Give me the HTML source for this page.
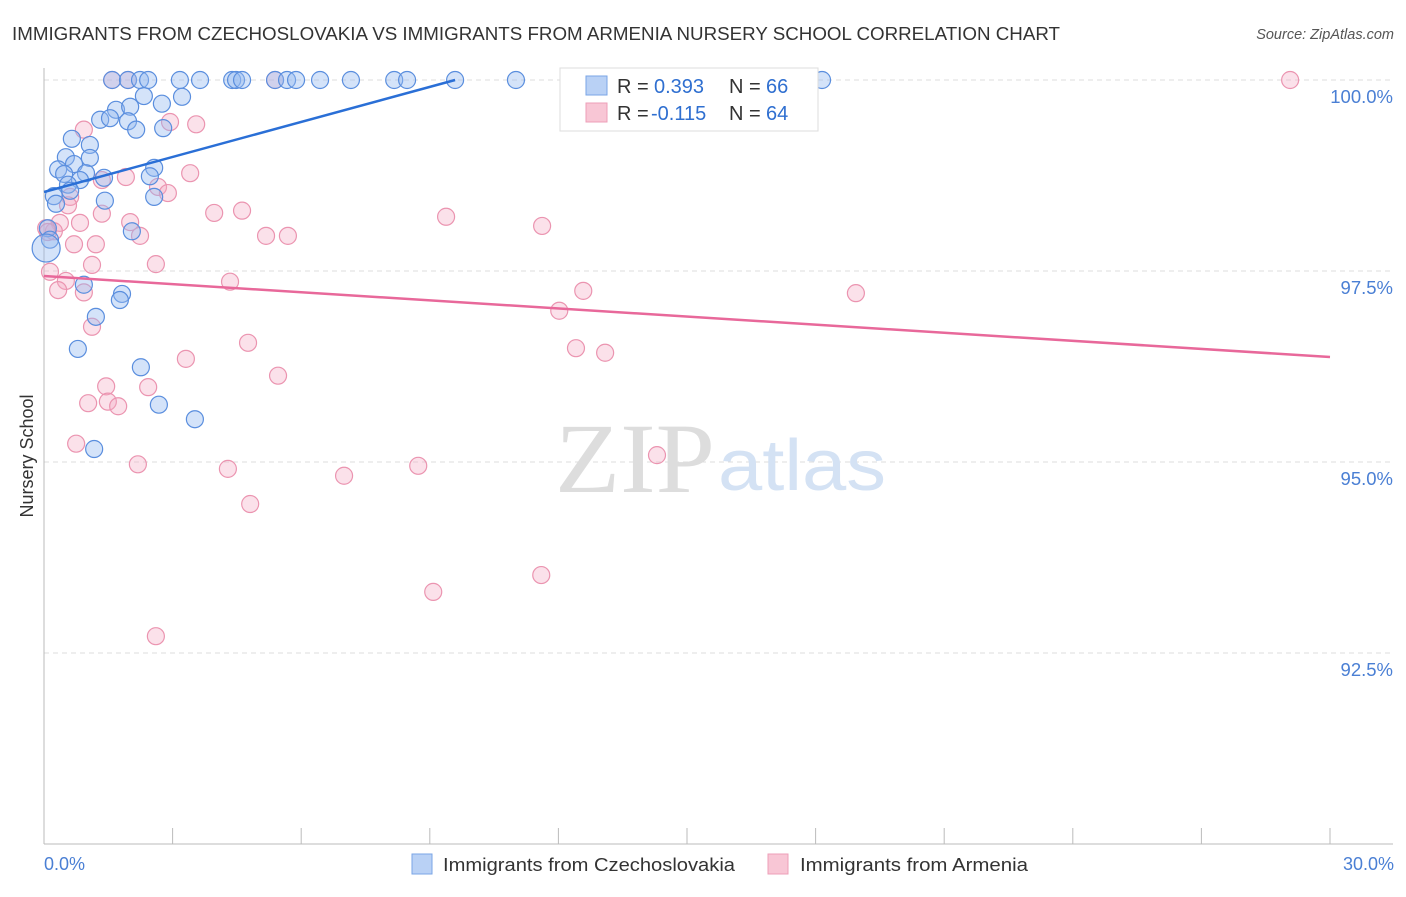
<!DOCTYPE html>
<html><head><meta charset="utf-8"><style>
body{margin:0;background:#fff;font-family:"Liberation Sans",sans-serif;}
</style></head><body>
<svg width="1406" height="892" xmlns="http://www.w3.org/2000/svg">
<text x="12" y="40" font-size="18" fill="#333" textLength="1048" lengthAdjust="spacingAndGlyphs">IMMIGRANTS FROM CZECHOSLOVAKIA VS IMMIGRANTS FROM ARMENIA NURSERY SCHOOL CORRELATION CHART</text>
<text x="1394" y="39" font-size="14.5" fill="#555" text-anchor="end" font-style="italic">Source: ZipAtlas.com</text>
<g id="grid"></g>
<text x="555" y="492" font-size="100" fill="#ddd" font-family="Liberation Serif,serif" textLength="160" lengthAdjust="spacingAndGlyphs">ZIP</text>
<text x="718" y="490" font-size="72" fill="#d4e2f4" textLength="168" lengthAdjust="spacingAndGlyphs">atlas</text>
<g id="pts"></g>
<g id="lines"></g>
<text x="33" y="456" font-size="18" fill="#333" text-anchor="middle" transform="rotate(-90 33 456)">Nursery School</text>
<text x="44" y="870" font-size="18" fill="#4a7fd4">0.0%</text>
<text x="1394" y="870" font-size="18" fill="#4a7fd4" text-anchor="end">30.0%</text>
<g>
<rect x="560" y="68" width="258" height="63" fill="#fff" stroke="#ddd"/>
<rect x="586" y="76" width="21" height="19" fill="#b9d1f5" stroke="#7aa5e6"/>
<rect x="586" y="103" width="21" height="19" fill="#f8c6d5" stroke="#ee9fb8"/>
<text x="617" y="93" font-size="20" fill="#333">R = <tspan x="654" fill="#2f6fd0">0.393</tspan><tspan x="729">N = </tspan><tspan x="766" fill="#2f6fd0">66</tspan></text>
<text x="617" y="120" font-size="20" fill="#333">R = <tspan x="651" fill="#2f6fd0">-0.115</tspan><tspan x="729">N = </tspan><tspan x="766" fill="#2f6fd0">64</tspan></text>
</g>
<g>
<rect x="412" y="854" width="20" height="20" fill="#b9d1f5" stroke="#7aa5e6"/>
<text x="443" y="871" font-size="18.5" fill="#333" textLength="292" lengthAdjust="spacingAndGlyphs">Immigrants from Czechoslovakia</text></g>
<g>
<rect x="768" y="854" width="20" height="20" fill="#f8c6d5" stroke="#ee9fb8"/>
<text x="800" y="871" font-size="18.5" fill="#333" textLength="228" lengthAdjust="spacingAndGlyphs">Immigrants from Armenia</text></g>
</svg>
<script>
const yTicks=[100,97.5,95,92.5];
const yTickLabels=["100.0%","97.5%","95.0%","92.5%"];
const blueX=[1.59,1.96,2.24,2.43,3.17,3.64,4.39,4.48,4.62,5.39,5.67,5.88,6.44,7.16,8.17,8.47,9.59,11.01,18.15,2.33,2.75,3.22,1.68,2.01,1.31,1.54,1.96,2.15,2.78,0.65,1.07,0.51,1.07,0.70,0.33,0.98,0.47,0.84,1.40,2.57,2.47,0.56,0.23,0.61,0.28,1.42,2.57,2.05,0.09,0.14,0.05,0.93,1.82,1.77,1.21,0.79,2.26,2.68,3.52,1.17];
const blueY=[100,100,100,100,100,100,100,100,100,100,100,100,100,100,100,100,100,100,100,99.79,99.69,99.78,99.61,99.65,99.48,99.50,99.46,99.35,99.37,99.23,99.15,98.99,98.98,98.90,98.83,98.78,98.77,98.69,98.72,98.85,98.74,98.63,98.48,98.55,98.38,98.42,98.47,98.02,98.06,97.91,97.80,97.32,97.20,97.12,96.90,96.48,96.24,95.75,95.56,95.17];
const pinkX=[1.59,1.96,5.39,29.07,3.55,2.94,0.93,3.41,1.91,2.66,2.89,1.35,0.61,0.56,3.97,4.62,9.38,11.62,1.35,2.01,0.84,0.37,0.23,2.24,5.18,5.69,0.70,1.21,1.12,2.61,0.14,0.51,4.34,0.33,0.93,12.58,18.94,12.02,1.12,4.76,12.41,13.09,3.31,5.46,1.45,2.43,1.03,1.49,1.73,0.75,2.19,4.29,8.73,14.30,7.00,4.81,11.60,9.08,2.61,0.05,0.09];
const pinkY=[100,100,100,100,99.42,99.45,99.35,98.78,98.73,98.60,98.52,98.69,98.47,98.36,98.26,98.29,98.21,98.09,98.25,98.14,98.13,98.13,98.02,97.96,97.96,97.96,97.85,97.85,97.58,97.59,97.49,97.37,97.36,97.25,97.22,97.24,97.21,96.98,96.77,96.56,96.49,96.43,96.35,96.13,95.99,95.98,95.77,95.79,95.73,95.24,94.97,94.91,94.95,95.09,94.82,94.45,93.52,93.30,92.72,98.06,98.01];
const blueTrend=[[0,98.534],[9.59,100]];
const pinkTrend=[[0,97.434],[30,96.374]];
const xTicks=[0,3,6,9,12,15,18,21,24,27,30];
const NS="http://www.w3.org/2000/svg";
const sx=v=>44+v/30*1286;
const sy=v=>80+(100-v)/2.5*191;
function mk(t,a,p){const e=document.createElementNS(NS,t);for(const k in a)e.setAttribute(k,a[k]);p.appendChild(e);return e;}
const grid=document.getElementById('grid');
yTicks.forEach((t,i)=>{
 const l=mk('line',{x1:44,x2:1393,y1:sy(t),y2:sy(t),stroke:'#ddd','stroke-dasharray':'5,4'},grid);
 
 
 const tx=mk('text',{x:1393,y:sy(t)+23,'font-size':18.5,fill:'#4a7fd4','text-anchor':'end'},grid);
 tx.textContent=yTickLabels[i];
 
 
});
const ax=mk('line',{x1:44,x2:44,y1:68,y2:844,stroke:'#bbb'},grid);


const bx=mk('line',{x1:44,x2:1393,y1:844,y2:844,stroke:'#bbb'},grid);


xTicks.forEach(t=>{
 const l=mk('line',{x1:sx(t),x2:sx(t),y1:828,y2:844,stroke:'#bbb'},grid);
 
 
});
const pts=document.getElementById('pts');
pinkX.forEach((x,i)=>{
 const c=mk('circle',{cx:sx(x),cy:sy(pinkY[i]),r:8.5,fill:'rgba(244,170,195,0.35)',stroke:'#eb94b0','stroke-width':1.2},pts);
 
 
});
blueX.forEach((x,i)=>{
 const c=mk('circle',{cx:sx(x),cy:sy(blueY[i]),r:i==50?14:8.5,fill:'rgba(147,186,240,0.4)',stroke:'#5a8ede','stroke-width':1.2},pts);
 
 
});
const lines=document.getElementById('lines');
const bl=mk('line',{x1:sx(blueTrend[0][0]),y1:sy(blueTrend[0][1]),x2:sx(blueTrend[1][0]),y2:sy(blueTrend[1][1]),stroke:'#2a6fd6','stroke-width':2.5},lines);


const pl=mk('line',{x1:sx(pinkTrend[0][0]),y1:sy(pinkTrend[0][1]),x2:sx(pinkTrend[1][0]),y2:sy(pinkTrend[1][1]),stroke:'#e8689a','stroke-width':2.5},lines);


</script>
</body></html>
